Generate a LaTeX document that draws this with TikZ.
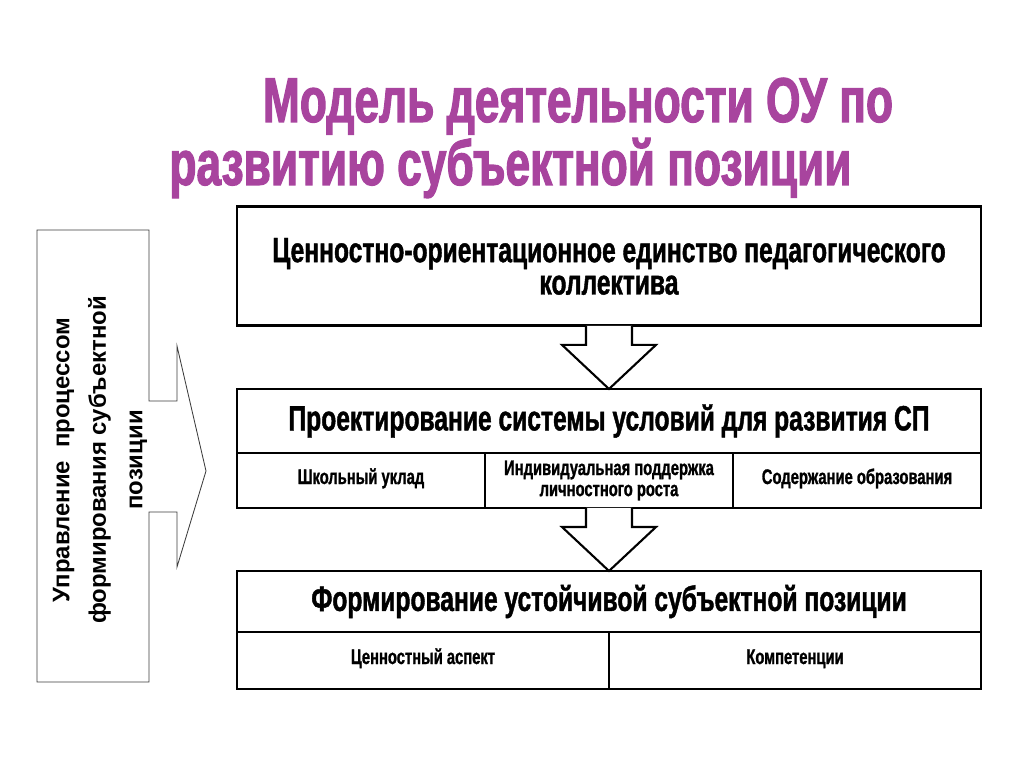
\documentclass[tikz,border=0pt]{standalone}
\usepackage{fontspec}
\setmainfont{Liberation Sans}
\newfontfamily\condfont[FakeStretch=0.7, FakeBold=1.2]{Liberation Sans}
\newfontfamily\titlefont[FakeStretch=0.7, FakeBold=1.8]{Liberation Sans}
\usetikzlibrary{positioning,calc}
\definecolor{titlepurple}{HTML}{A8449E}
\definecolor{edgegray}{HTML}{3C3C3C}

\begin{document}
\begin{tikzpicture}[
  titletext/.style={text=titlepurple, anchor=base, inner sep=0pt, font=\titlefont\bfseries\fontsize{45}{50}\selectfont},
  hdr/.style={rectangle, draw, line width=2pt, outer sep=0pt, fill=white, minimum width=18.6cm, align=center, font=\condfont\bfseries\fontsize{25}{23}\selectfont},
  cell/.style={rectangle, draw, line width=2pt, outer sep=0pt, fill=white, align=center, font=\condfont\bfseries\fontsize{15}{15}\selectfont},
  oneline/.style={text height=0.75em, text depth=0.25em},
  blockarr/.style={line width=1.5pt, fill=white, line join=miter},
  mgmtline/.style={draw=edgegray, line width=0.6pt}
]
  \useasboundingbox (0,0) rectangle (25.6,19.2);

  % title
  \node[titletext] (t1) at (14.45,16.15) {Модель деятельности ОУ по};
  \node[titletext] (t2) at (12.76,14.575) {развитию субъектной позиции};

  % left frame with arrow
  \draw[mgmtline] (0.925,13.45) -- (3.725,13.45) -- (3.725,9.175) -- (4.425,9.175) -- (4.425,10.55) -- (5.15,7.425)
    -- (4.425,5.025) -- (4.425,6.4) -- (3.725,6.4) -- (3.725,2.15) -- (0.925,2.15) -- cycle;
  \node[rotate=90, align=center, font=\bfseries\fontsize{17}{26}\selectfont] (mgmt) at (2.5,7.7)
    {Управление\ \ процессом\\формирования субъектной\\позиции};

  % block 1
  \node[hdr, minimum height=2.975cm] (b1) at (15.225,12.54) {Ценностно-ориентационное единство педагогического\\коллектива};

  % block 2
  \node[hdr, minimum height=1.6cm] (h2) at (15.225,8.675) {Проектирование системы условий для развития СП};
  \node[cell, oneline, minimum width=6.2cm, minimum height=1.375cm, anchor=north west] (s1) at (h2.south west) {Школьный уклад};
  \node[cell, minimum width=6.2cm, minimum height=1.375cm, anchor=north west] (s2) at (s1.north east) {Индивидуальная поддержка\\личностного роста};
  \node[cell, oneline, minimum width=6.2cm, minimum height=1.375cm, anchor=north west] (s3) at (s2.north east) {Содержание образования};

  % block 3
  \node[hdr, minimum height=1.525cm] (h3) at (15.225,4.1625) {Формирование устойчивой субъектной позиции};
  \node[cell, oneline, minimum width=9.3cm, minimum height=1.425cm, anchor=north west] (c1) at (h3.south west) {Ценностный аспект};
  \node[cell, oneline, minimum width=9.3cm, minimum height=1.425cm, anchor=north west] (c2) at (c1.north east) {Компетенции};

  % block arrows
  \draw[blockarr] ($(b1.south)+(-0.575,0)$) -- ++(0,-0.475) -- ++(-0.6,0) -- (h2.north)
    -- ($(b1.south)+(1.175,-0.475)$) -- ++(-0.6,0) -- ++(0,0.475);
  \draw[blockarr] ($(s2.south)+(-0.575,0)$) -- ++(0,-0.475) -- ++(-0.6,0) -- (h3.north)
    -- ($(s2.south)+(1.175,-0.475)$) -- ++(-0.6,0) -- ++(0,0.475);
\end{tikzpicture}
\end{document}
